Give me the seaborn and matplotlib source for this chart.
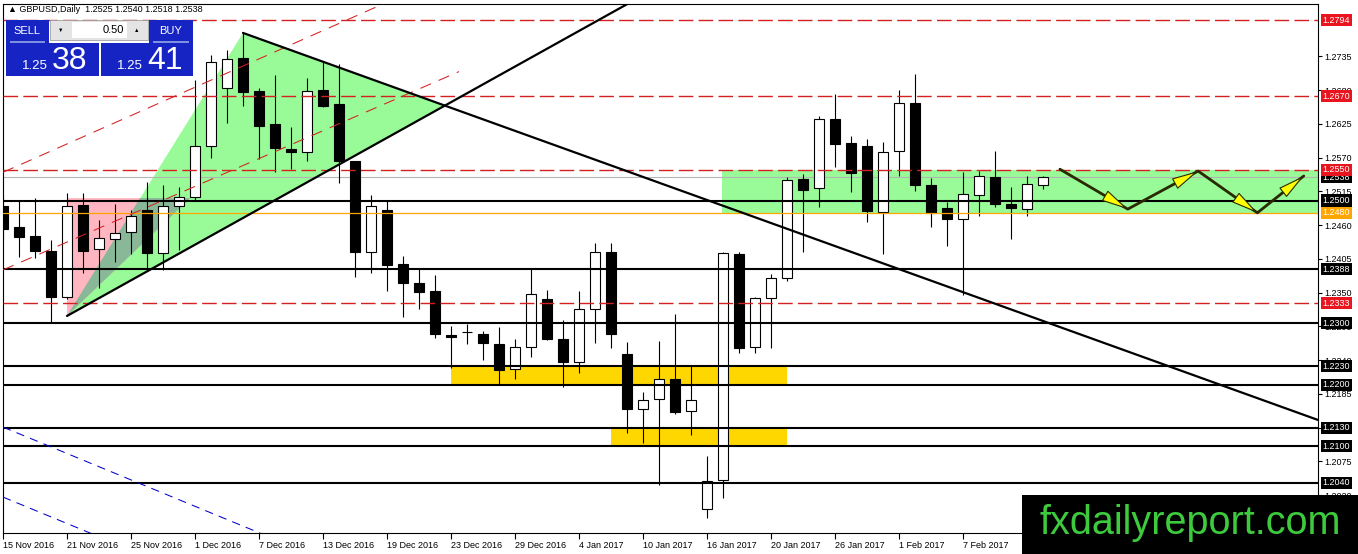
# GBPUSD daily chart with support/resistance levels - recreated with seaborn/matplotlib
import numpy as np
import pandas as pd
import matplotlib
matplotlib.use('Agg')
import matplotlib.pyplot as plt
import matplotlib.transforms as mtransforms
from matplotlib.patches import Polygon, Rectangle, FancyArrowPatch
import seaborn as sns

# Daily candles 15 Nov 2016 .. 14 Feb 2017
opens = [1.2491, 1.2457, 1.2442, 1.2418, 1.2343, 1.2493, 1.2421, 1.2437, 1.2449, 1.2485,
         1.2415, 1.2491, 1.2506, 1.2589, 1.2683, 1.2732, 1.2678, 1.2625, 1.2584, 1.2579,
         1.2680, 1.2657, 1.2564, 1.2416, 1.2485, 1.2397, 1.2366, 1.2353, 1.2281, 1.2286,
         1.2283, 1.2266, 1.2226, 1.2261, 1.2340, 1.2274, 1.2237, 1.2323, 1.2416, 1.2250,
         1.2160, 1.2177, 1.2209, 1.2157, 1.1998, 1.2045, 1.2413, 1.2261, 1.2341, 1.2374,
         1.2535, 1.2520, 1.2633, 1.2594, 1.2589, 1.2481, 1.2581, 1.2659, 1.2525, 1.2488,
         1.2470, 1.2509, 1.2538, 1.2494, 1.2486, 1.2525]
highs = [1.2509, 1.2499, 1.2504, 1.2436, 1.2512, 1.2512, 1.2468, 1.2494, 1.2485, 1.2530,
         1.2525, 1.2522, 1.2696, 1.2737, 1.2745, 1.2773, 1.2683, 1.2704, 1.2620, 1.2700,
         1.2727, 1.2722, 1.2565, 1.2509, 1.2499, 1.2410, 1.2389, 1.2379, 1.2296, 1.2299,
         1.2288, 1.2294, 1.2274, 1.2389, 1.2354, 1.2305, 1.2353, 1.2431, 1.2431, 1.2270,
         1.2188, 1.2271, 1.2315, 1.2232, 1.2084, 1.2416, 1.2416, 1.2343, 1.2380, 1.2538,
         1.2543, 1.2638, 1.2673, 1.2605, 1.2600, 1.2595, 1.2680, 1.2706, 1.2537, 1.2498,
         1.2546, 1.2548, 1.2581, 1.2522, 1.2540, 1.2540]
lows = [1.2436, 1.2408, 1.2406, 1.2301, 1.2340, 1.2382, 1.2358, 1.2400, 1.2413, 1.2387,
        1.2387, 1.2419, 1.2501, 1.2569, 1.2626, 1.2654, 1.2568, 1.2546, 1.2551, 1.2564,
        1.2652, 1.2529, 1.2375, 1.2382, 1.2353, 1.2310, 1.2323, 1.2276, 1.2227, 1.2266,
        1.2240, 1.2201, 1.2209, 1.2245, 1.2273, 1.2196, 1.2219, 1.2268, 1.2260, 1.2121,
        1.2105, 1.2037, 1.2152, 1.2118, 1.1983, 1.2016, 1.2252, 1.2252, 1.2260, 1.2369,
        1.2416, 1.2489, 1.2555, 1.2514, 1.2465, 1.2413, 1.2540, 1.2516, 1.2457, 1.2426,
        1.2346, 1.2475, 1.2489, 1.2437, 1.2475, 1.2518]
closes = [1.2454, 1.2441, 1.2418, 1.2343, 1.2491, 1.2418, 1.2439, 1.2447, 1.2475, 1.2415,
          1.2491, 1.2506, 1.2589, 1.2726, 1.2730, 1.2677, 1.2621, 1.2586, 1.2579, 1.2678,
          1.2654, 1.2564, 1.2416, 1.2491, 1.2395, 1.2366, 1.2351, 1.2283, 1.2278, 1.2286,
          1.2268, 1.2224, 1.2261, 1.2348, 1.2274, 1.2237, 1.2323, 1.2416, 1.2283, 1.2160,
          1.2175, 1.2209, 1.2156, 1.2175, 1.2043, 1.2415, 1.2260, 1.2341, 1.2374, 1.2533,
          1.2517, 1.2633, 1.2592, 1.2545, 1.2483, 1.2579, 1.2659, 1.2525, 1.2480, 1.2470,
          1.2511, 1.2540, 1.2494, 1.2488, 1.2527, 1.2538]

tick_pos = [0, 4, 8, 12, 16, 20, 24, 28, 32, 36, 40, 44, 48, 52, 56, 60]
tick_labels = ['15 Nov 2016', '21 Nov 2016', '25 Nov 2016', '1 Dec 2016', '7 Dec 2016',
               '13 Dec 2016', '19 Dec 2016', '23 Dec 2016', '29 Dec 2016', '4 Jan 2017',
               '10 Jan 2017', '16 Jan 2017', '20 Jan 2017', '26 Jan 2017', '1 Feb 2017',
               '7 Feb 2017']
price_ticks = [1.2735, 1.2680, 1.2625, 1.2570, 1.2515, 1.2460, 1.2405, 1.2350,
               1.2295, 1.2240, 1.2185, 1.2130, 1.2075, 1.2020]

# horizontal levels
red_levels = [1.2794, 1.2670, 1.2550, 1.2333]
black_levels = [1.2500, 1.2388, 1.2300, 1.2230, 1.2200, 1.2130, 1.2100, 1.2040]
orange_level = 1.2480
bid_price = 1.2538

# zones (bar index from/to, price low/high)
green_zone = (44.95, 90, 1.2480, 1.2550)
yellow_zones = [(28, 49, 1.2200, 1.2230), (38, 49, 1.2100, 1.2130)]

# triangle / trendlines (bar index, price)
green_tri_x = [4, 15, 27.6]
green_tri_y = [1.2312, 1.2773, 1.2655]
pink_tri_x = [4, 11.7, 4]
pink_tri_y = [1.2504, 1.2504, 1.2312]
overlap_tri_x = [4, 8.56, 11.7]
overlap_tri_y = [1.2312, 1.2504, 1.2504]
trend_up_x = [4, 39.5]
trend_up_y = [1.2312, 1.2827]
trend_down_x = [15, 83]
trend_down_y = [1.2773, 1.2135]
channel_a_x = [0, 24]
channel_a_y = [1.2546, 1.2823]
channel_b_x = [0, 28.5]
channel_b_y = [1.2387, 1.2710]
blue_a_x = [0, 20]
blue_a_y = [1.2131, 1.1916]
blue_b_x = [0, 8]
blue_b_y = [1.2017, 1.1931]

# projected zig-zag
zig_x = [66.06, 70.3, 74.7, 78.4, 81.3]
zig_y = [1.2551, 1.2486, 1.2548, 1.2480, 1.2540]

sns.set_theme(style='white')
plt.rcParams['font.family'] = ['Liberation Sans', 'DejaVu Sans']

W, H = 1358, 554
fig = plt.figure(figsize=(W / 100, H / 100), dpi=100)
ax = fig.add_axes([3 / W, 1 - 533 / H, 1315 / W, 529 / H])

df = pd.DataFrame({'open': opens, 'high': highs, 'low': lows, 'close': closes})
df['idx'] = np.arange(len(df))
up = df['close'] >= df['open']

# zones and shaded triangles
ax.add_patch(Rectangle((green_zone[0], green_zone[2]), green_zone[1] - green_zone[0],
                       green_zone[3] - green_zone[2], fc='#98FB98', ec='none', zorder=1))
for x0, x1, p0, p1 in yellow_zones:
    ax.add_patch(Rectangle((x0, p0), x1 - x0, p1 - p0, fc='#FFD700', ec='none', zorder=1))
ax.add_patch(Polygon(list(zip(green_tri_x, green_tri_y)), fc='#98FB98', ec='none', zorder=1.5))
ax.add_patch(Polygon(list(zip(pink_tri_x, pink_tri_y)), fc='#FFB6C1', ec='none', zorder=1.5))
ax.add_patch(Polygon(list(zip(overlap_tri_x, overlap_tri_y)), fc='#88B898', ec='none', zorder=1.6))

ax.axhline(bid_price, color='#B4B4B4', lw=0.8, zorder=2)

# candles
ax.vlines(df['idx'], df['low'], df['high'], color='black', lw=0.8, zorder=3)
ax.bar(df['idx'], (df['close'] - df['open']).abs(), bottom=df[['open', 'close']].min(axis=1),
       width=0.58, color=np.where(up, 'white', 'black'), edgecolor='black', linewidth=0.8,
       zorder=3.5)

# levels
for lvl in black_levels:
    ax.axhline(lvl, color='black', lw=1.5, zorder=4)
for lvl in red_levels:
    ax.axhline(lvl, color='#D42020', lw=1.0, ls=(0, (10.5, 3.8)), zorder=4)
ax.axhline(orange_level, color='#FFA500', lw=0.9, zorder=4)

# diagonal lines
for xs, ys in [(channel_a_x, channel_a_y), (channel_b_x, channel_b_y)]:
    ax.plot(xs, ys, color='#D42020', lw=0.75, ls=(0, (11, 8)), zorder=4)
for xs, ys in [(blue_a_x, blue_a_y), (blue_b_x, blue_b_y)]:
    ax.plot(xs, ys, color='#0000C8', lw=0.75, ls=(0, (8, 6)), zorder=4)
for xs, ys in [(trend_up_x, trend_up_y), (trend_down_x, trend_down_y)]:
    sns.lineplot(x=xs, y=ys, ax=ax, color='black', lw=1.6, zorder=4.5,
                 estimator=None, sort=False, legend=False)

# zig-zag arrows
ax.plot(zig_x, zig_y, color='#2A2A00', lw=2.0, zorder=5, solid_capstyle='round')
for k in range(len(zig_x) - 1):
    ax.add_patch(FancyArrowPatch((zig_x[k], zig_y[k]), (zig_x[k + 1], zig_y[k + 1]),
                                 arrowstyle='-|>,head_length=17,head_width=3.8',
                                 mutation_scale=1, lw=0.8, ec='#2A2A00', fc='#FFFF00',
                                 shrinkA=0, shrinkB=0, zorder=6))

ax.set_xlim(0, 82.19)
ax.set_ylim(1.19585, 1.28201)

ax.set_xticks(tick_pos)
ax.set_xticklabels(tick_labels)
for lbl in ax.get_xticklabels():
    lbl.set_horizontalalignment('left')
ax.yaxis.tick_right()
ax.set_yticks(price_ticks)
ax.set_yticklabels([f'{p:.4f}' for p in price_ticks])
ax.tick_params(axis='x', bottom=True, length=4, width=0.8, color='black',
               labelsize=6.5, pad=1.5, labelcolor='black')
ax.tick_params(axis='y', right=True, left=False, length=3, width=0.8, color='black',
               labelsize=6.5, pad=1.5, labelcolor='black')
for s in ax.spines.values():
    s.set_color('black')
    s.set_linewidth(0.8)
ax.set_xlabel('')
ax.set_ylabel('')

# price tags on the right axis
trans = mtransforms.blended_transform_factory(ax.transAxes, ax.transData)


def level_tag(p, fc):
    ax.text(1.0035, p, f'{p:.4f}', transform=trans, ha='left', va='center', fontsize=6.5,
            color='white', bbox=dict(boxstyle='square,pad=0.18', fc=fc, ec='none'),
            clip_on=False, zorder=20)


level_tag(bid_price, 'black')
for lvl in black_levels:
    level_tag(lvl, 'black')
level_tag(orange_level, '#FFA500')
for lvl in red_levels:
    level_tag(lvl, '#E8141E')


# one-click trading panel (pixel coordinates of the figure)
def px_rect(x0, y0, x1, y1, fc, ec='none', lw=0):
    fig.add_artist(Rectangle((x0 / W, 1 - y1 / H), (x1 - x0) / W, (y1 - y0) / H,
                             transform=fig.transFigure, fc=fc, ec=ec, lw=lw, zorder=10))


def px_text(x, y, s, **kw):
    fig.text(x / W, 1 - y / H, s, zorder=11, **kw)


px_text(8, 10, '▲ GBPUSD,Daily  1.2525 1.2540 1.2518 1.2538', fontsize=6.5,
        va='center', ha='left', color='black')

blue = '#1624C4'
px_rect(6, 20, 49, 43, blue)
px_rect(6, 43, 99, 76, blue)
px_rect(149, 20, 193, 43, blue)
px_rect(101, 43, 193, 76, blue)
px_rect(10, 41.5, 45, 42.5, '#8090E0')
px_rect(153, 41.5, 189, 42.5, '#8090E0')
px_rect(50, 20, 148, 40, '#E4E4E4', ec='#A0A0A0', lw=0.6)
px_rect(72, 22, 127, 38, 'white')
px_text(27, 31, 'SELL', fontsize=8, color='white', ha='center', va='center')
px_text(171, 31, 'BUY', fontsize=8, color='white', ha='center', va='center')
px_text(124, 30, '0.50', fontsize=8, color='black', ha='right', va='center')
px_text(61, 30, '▼', fontsize=4, color='black', ha='center', va='center')
px_text(137, 30, '▲', fontsize=4, color='black', ha='center', va='center')
px_text(48, 69, '1.25', fontsize=9.5, color='white', ha='right', va='baseline')
px_text(52, 69, '38', fontsize=23, color='white', ha='left', va='baseline')
px_text(143, 69, '1.25', fontsize=9.5, color='white', ha='right', va='baseline')
px_text(147, 69, '41', fontsize=23, color='white', ha='left', va='baseline')

# watermark
px_rect(1022, 495, 1358, 554, 'black')
px_text(1190, 523, 'fxdailyreport.com', fontsize=28.5, color='#3DCB3D',
        ha='center', va='center')

fig.savefig('out.png', dpi=100)
